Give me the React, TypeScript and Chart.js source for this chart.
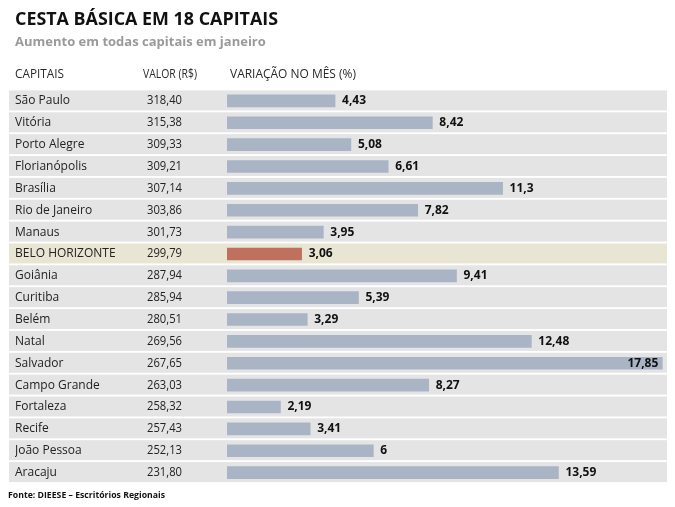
import React, { useEffect, useRef } from "react";
import { Chart, registerables } from "chart.js";

Chart.register(...registerables);

const cities = [
  "São Paulo", "Vitória", "Porto Alegre", "Florianópolis", "Brasília", "Rio de Janeiro",
  "Manaus", "BELO HORIZONTE", "Goiânia", "Curitiba", "Belém", "Natal", "Salvador",
  "Campo Grande", "Fortaleza", "Recife", "João Pessoa", "Aracaju",
];
const valores = [
  "318,40", "315,38", "309,33", "309,21", "307,14", "303,86", "301,73", "299,79", "287,94",
  "285,94", "280,51", "269,56", "267,65", "263,03", "258,32", "257,43", "252,13", "231,80",
];
const variacao = [
  4.43, 8.42, 5.08, 6.61, 11.3, 7.82, 3.95, 3.06, 9.41, 5.39, 3.29, 12.48, 17.85, 8.27,
  2.19, 3.41, 6, 13.59,
];
const highlightIndex = 7;

const title = "CESTA BÁSICA EM 18 CAPITAIS";
const subtitle = "Aumento em todas capitais em janeiro";
const headers = ["CAPITAIS", "VALOR (R$)", "VARIAÇÃO NO MÊS (%)"];
const source = "Fonte: DIEESE – Escritórios Regionais";

const FONT = "'Open Sans', 'DejaVu Sans', sans-serif";

const tablePlugin = {
  id: "tablePlugin",
  beforeDraw(chart: any) {
    const ctx = chart.ctx;
    const y = chart.scales.y;
    ctx.save();
    cities.forEach((_, i) => {
      const cy = y.getPixelForValue(i);
      ctx.fillStyle = i === highlightIndex ? "#e9e5d3" : "#e4e4e4";
      ctx.fillRect(9, cy - 10.5, 658, 20);
    });
    ctx.textBaseline = "alphabetic";
    ctx.textAlign = "left";
    ctx.fillStyle = "#111111";
    ctx.font = `bold 18px ${FONT}`;
    ctx.fillText(title, 15, 25, 263);
    ctx.fillStyle = "#9a9a9a";
    ctx.font = `bold 13px ${FONT}`;
    ctx.fillText(subtitle, 15, 45.5, 257);
    ctx.fillStyle = "#2a2a2a";
    ctx.font = `12px ${FONT}`;
    ctx.textBaseline = "middle";
    ctx.fillText(headers[0], 15, 75, 49);
    ctx.fillText(headers[1], 143, 75, 54);
    ctx.fillText(headers[2], 230, 75, 126);
    ctx.fillStyle = "#111111";
    ctx.font = `bold 9px ${FONT}`;
    ctx.fillText(source, 8, 495, 157);
    ctx.fillStyle = "#222222";
    ctx.font = `12px ${FONT}`;
    valores.forEach((v, i) => {
      ctx.fillText(v, 147, y.getPixelForValue(i), 35);
    });
    ctx.restore();
  },
  afterDatasetsDraw(chart: any) {
    const ctx = chart.ctx;
    const meta = chart.getDatasetMeta(0);
    ctx.save();
    ctx.font = `bold 12px ${FONT}`;
    ctx.fillStyle = "#111111";
    ctx.textBaseline = "middle";
    meta.data.forEach((bar: any, i: number) => {
      const v = variacao[i];
      const label = String(v).replace(".", ",");
      if (v > 16) {
        ctx.textAlign = "right";
        ctx.fillText(label, bar.x - 4, bar.y);
      } else {
        ctx.textAlign = "left";
        ctx.fillText(label, bar.x + 7, bar.y);
      }
    });
    ctx.restore();
  },
};

export default function App() {
  const ref = useRef<HTMLCanvasElement | null>(null);
  useEffect(() => {
    if (!ref.current) return;
    const chart = new Chart(ref.current, {
      type: "bar",
      data: {
        labels: cities,
        datasets: [
          {
            data: variacao,
            backgroundColor: variacao.map((_, i) => (i === highlightIndex ? "#c0705e" : "#a9b4c5")),
            barThickness: 12,
            borderWidth: 0,
          },
        ],
      },
      options: {
        indexAxis: "y",
        animation: false,
        responsive: true,
        maintainAspectRatio: false,
        layout: { padding: { left: 15, right: 9, top: 90, bottom: 23.5 } },
        plugins: { legend: { display: false }, tooltip: { enabled: false }, title: { display: false } },
        scales: {
          x: { min: 0, max: 18, display: false },
          y: {
            grid: { display: false },
            border: { display: false },
            afterFit(scale: any) {
              scale.width = 212;
            },
            ticks: {
              crossAlign: "far",
              color: "#222222",
              font: { family: FONT, size: 12 },
              autoSkip: false,
            },
          },
        },
      },
      plugins: [tablePlugin],
    } as any);
    return () => chart.destroy();
  }, []);
  return (
    <div style={{ position: "fixed", left: 0, top: 0, width: 675, height: 507, background: "#ffffff" }}>
      <canvas ref={ref} />
    </div>
  );
}
